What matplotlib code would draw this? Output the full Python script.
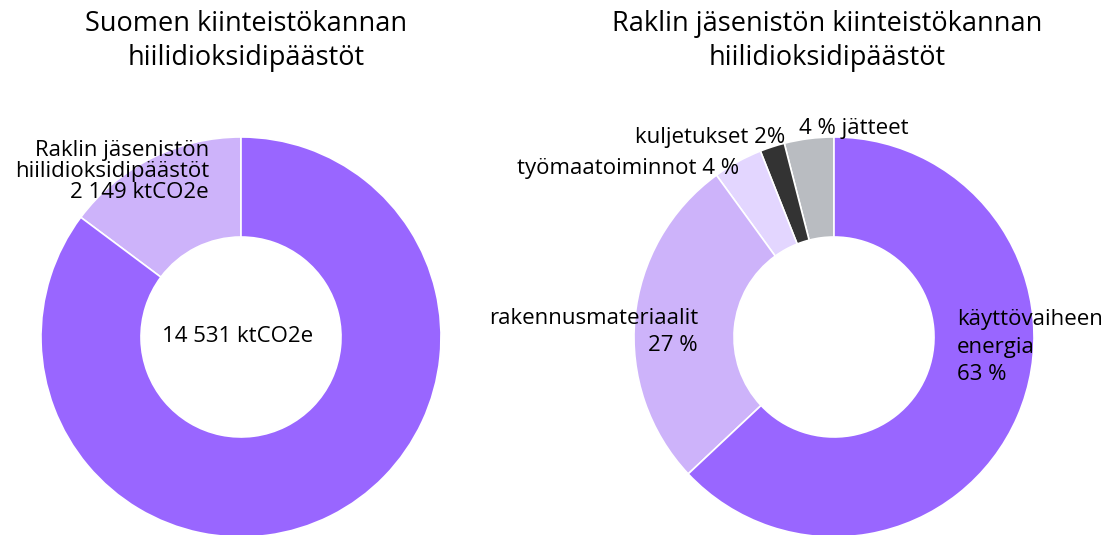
import matplotlib.pyplot as plt

plt.rcParams['font.family'] = ['Open Sans', 'DejaVu Sans']

# left donut: Finland total vs. Rakli members
left_title = 'Suomen kiinteistökannan\nhiilidioksidipäästöt'
finland_total = 14531
rakli_total = 2149
left_values = [rakli_total, finland_total - rakli_total]
left_colors = ['#CDB3FA', '#9966FF']

# right donut: Rakli members by source (%)
right_title = 'Raklin jäsenistön kiinteistökannan\nhiilidioksidipäästöt'
right_labels = ['jätteet', 'kuljetukset', 'työmaatoiminnot', 'rakennusmateriaalit', 'käyttövaiheen energia']
right_values = [4, 2, 4, 27, 63]
right_colors = ['#B9BCC1', '#333333', '#E3D6FF', '#CDB3FA', '#9966FF']

W, H = 1115, 535
fig = plt.figure(figsize=(W / 100, H / 100), dpi=100)


def donut_axes(cx, cy, r=200):
    ax = fig.add_axes([(cx - r) / W, (H - cy - r) / H, 2 * r / W, 2 * r / H])
    return ax


def px(ax_cx, ax_cy, x, y, r=200):
    # convert pixel position to data coords of a donut axes
    return (x - ax_cx) / r, (ax_cy - y) / r


wedge_kw = dict(width=0.5, edgecolor='white', linewidth=1.2)
fs = 16

# ---- left
lcx, lcy = 241, 337
ax1 = donut_axes(lcx, lcy)
ax1.pie(left_values, colors=left_colors, startangle=90, counterclock=True,
        radius=1, wedgeprops=wedge_kw)
ax1.set_xlim(-1, 1)
ax1.set_ylim(-1, 1)
ax1.set_aspect('equal')
ax1.axis('off')
ax1.text(*px(lcx, lcy, 238, 337), f'{finland_total:,} ktCO2e'.replace(',', ' '),
         ha='center', va='center', fontsize=fs, clip_on=False)
ax1.text(*px(lcx, lcy, 209, 171),
         'Raklin jäsenistön\nhiilidioksidipäästöt\n' + f'{rakli_total:,} ktCO2e'.replace(',', ' '),
         ha='right', va='center', multialignment='right', fontsize=fs,
         linespacing=1.0, clip_on=False)

# ---- right
rcx, rcy = 834, 337
ax2 = donut_axes(rcx, rcy)
ax2.pie(right_values, colors=right_colors, startangle=90, counterclock=True,
        radius=1, wedgeprops=wedge_kw)
ax2.set_xlim(-1, 1)
ax2.set_ylim(-1, 1)
ax2.set_aspect('equal')
ax2.axis('off')
ax2.text(*px(rcx, rcy, 799, 128), f'{right_values[0]} % {right_labels[0]}',
         ha='left', va='center', fontsize=fs, clip_on=False)
ax2.text(*px(rcx, rcy, 785, 137), f'{right_labels[1]} {right_values[1]}%',
         ha='right', va='center', fontsize=fs, clip_on=False)
ax2.text(*px(rcx, rcy, 739, 168), f'{right_labels[2]} {right_values[2]} %',
         ha='right', va='center', fontsize=fs, clip_on=False)
ax2.text(*px(rcx, rcy, 698, 332), f'{right_labels[3]}\n{right_values[3]} %',
         ha='right', va='center', multialignment='right', fontsize=fs,
         linespacing=1.38, clip_on=False)
ax2.text(*px(rcx, rcy, 957, 347), 'käyttövaiheen\nenergia\n' + f'{right_values[4]} %',
         ha='left', va='center', multialignment='left', fontsize=fs,
         linespacing=1.38, clip_on=False)

# titles
fig.text(246 / W, 1 - 41 / H, left_title, ha='center', va='center',
         fontsize=19.5, linespacing=1.3)
fig.text(827 / W, 1 - 41 / H, right_title, ha='center', va='center',
         fontsize=19.5, linespacing=1.3)

fig.savefig('out.png', dpi=100)
